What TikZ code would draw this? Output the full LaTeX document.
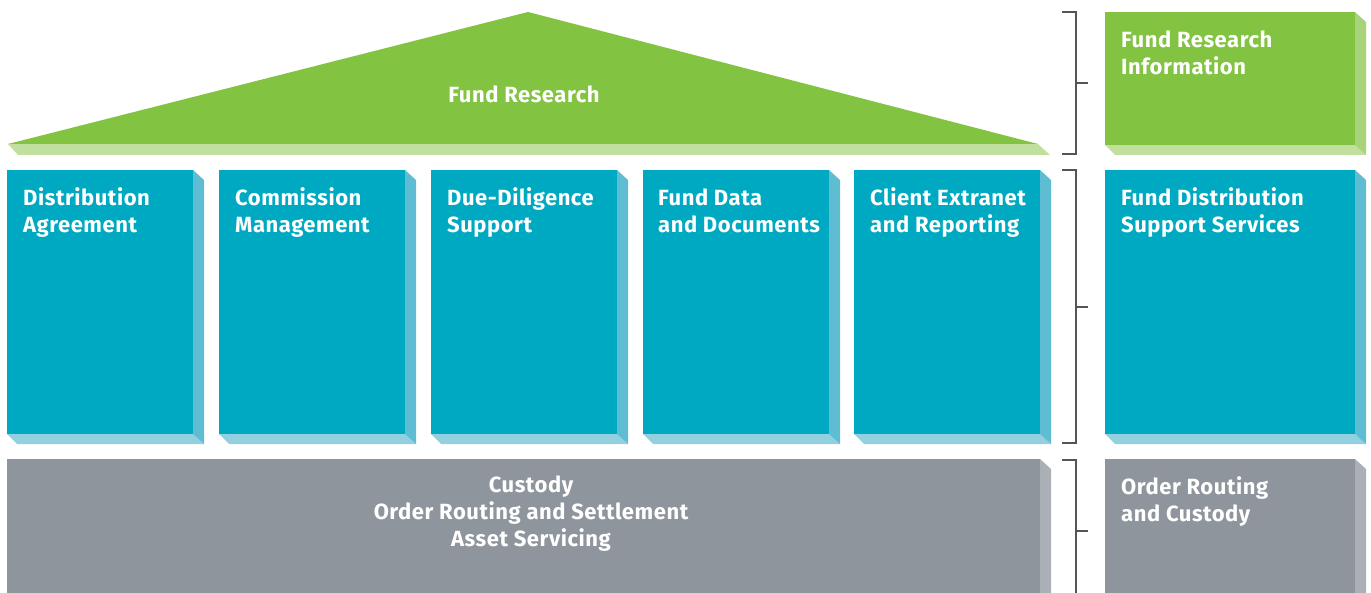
\documentclass[tikz,border=0pt]{standalone}
\usepackage{fontspec}
\setmainfont[LetterSpace=2.5]{Fira Sans}
\usetikzlibrary{positioning}
\definecolor{fundgreen}{HTML}{82C341}
\definecolor{fundgreenside}{HTML}{A8D37A}
\definecolor{fundgreenbase}{HTML}{C1DF9F}
\definecolor{fundblue}{HTML}{00A9C2}
\definecolor{fundblueside}{HTML}{5EBDD2}
\definecolor{fundbluebase}{HTML}{92CFDF}
\definecolor{fundgray}{HTML}{8E959C}
\definecolor{fundgrayside}{HTML}{AAB0B6}
\definecolor{fundgraybase}{HTML}{B8BDC2}
\definecolor{bracketgray}{HTML}{555555}

\tikzset{
  label/.style={anchor=north west, inner sep=0pt, align=left, text=white,
    font=\fontsize{22}{27}\selectfont\bfseries},
  clabel/.style={inner sep=0pt, align=center, text=white,
    font=\fontsize{22}{27}\selectfont\bfseries},
  brace/.style={draw=bracketgray, line width=2pt}
}

% block: x1, y1, x2, y2, front, side, base
\newcommand{\fundblock}[7]{
  \fill[#7] (#1,#4) -- (#3,#4) -- (#3+11,#4+10) -- (#1+10,#4+10) -- cycle;
  \fill[#6] (#3,#2) -- (#3+11,#2+10) -- (#3+11,#4+10) -- (#3,#4) -- cycle;
  \fill[#5] (#1,#2) rectangle (#3,#4);
}

% bracket: y1, y2, middle
\newcommand{\fundbracket}[3]{
  \draw[brace] (1062,#1) -- (1076,#1) -- (1076,#2) -- (1062,#2);
  \draw[brace] (1076,#3) -- (1088,#3);
}

\begin{document}
\begin{tikzpicture}[x=1pt,y=-1pt]
\useasboundingbox (0,0) rectangle (1371,593);

% roof
\fill[fundgreenbase] (8,144) -- (1038,144) -- (1050,155) -- (18,155) -- cycle;
\fill[fundgreen] (8,144) -- (528,12) -- (1038,144) -- cycle;
\node[clabel] (research) at (524,94) {Fund Research};

% pillars
\fundblock{7}{170}{193}{434}{fundblue}{fundblueside}{fundbluebase}
\fundblock{219}{170}{405}{434}{fundblue}{fundblueside}{fundbluebase}
\fundblock{431}{170}{617}{434}{fundblue}{fundblueside}{fundbluebase}
\fundblock{643}{170}{829}{434}{fundblue}{fundblueside}{fundbluebase}
\fundblock{854}{170}{1040}{434}{fundblue}{fundblueside}{fundbluebase}
\node[label] (agreement) at (23,187) {Distribution\\Agreement};
\node[label] (commission) at (235,187) {Commission\\Management};
\node[label] (diligence) at (447,187) {Due-Diligence\\Support};
\node[label] (funddata) at (658,189) {Fund Data\\and Documents};
\node[label] (extranet) at (870,187) {Client Extranet\\and Reporting};

% foundation
\fundblock{7}{459}{1040}{600}{fundgray}{fundgrayside}{fundgraybase}
\node[clabel] (custody) at (531,514) {Custody\\Order Routing and Settlement\\Asset Servicing};

% right column
\fundblock{1105}{12}{1355}{145}{fundgreen}{fundgreenside}{fundgreenbase}
\fundblock{1105}{170}{1355}{434}{fundblue}{fundblueside}{fundbluebase}
\fundblock{1105}{459}{1355}{600}{fundgray}{fundgrayside}{fundgraybase}
\node[label] (info) at (1121,31) {Fund Research\\Information};
\node[label] (support) at (1121,187) {Fund Distribution\\Support Services};
\node[label] (routing) at (1121,476) {Order Routing\\and Custody};

% brackets
\fundbracket{12}{154}{83}
\fundbracket{170}{443}{307}
\fundbracket{460}{600}{531}

\end{tikzpicture}
\end{document}
